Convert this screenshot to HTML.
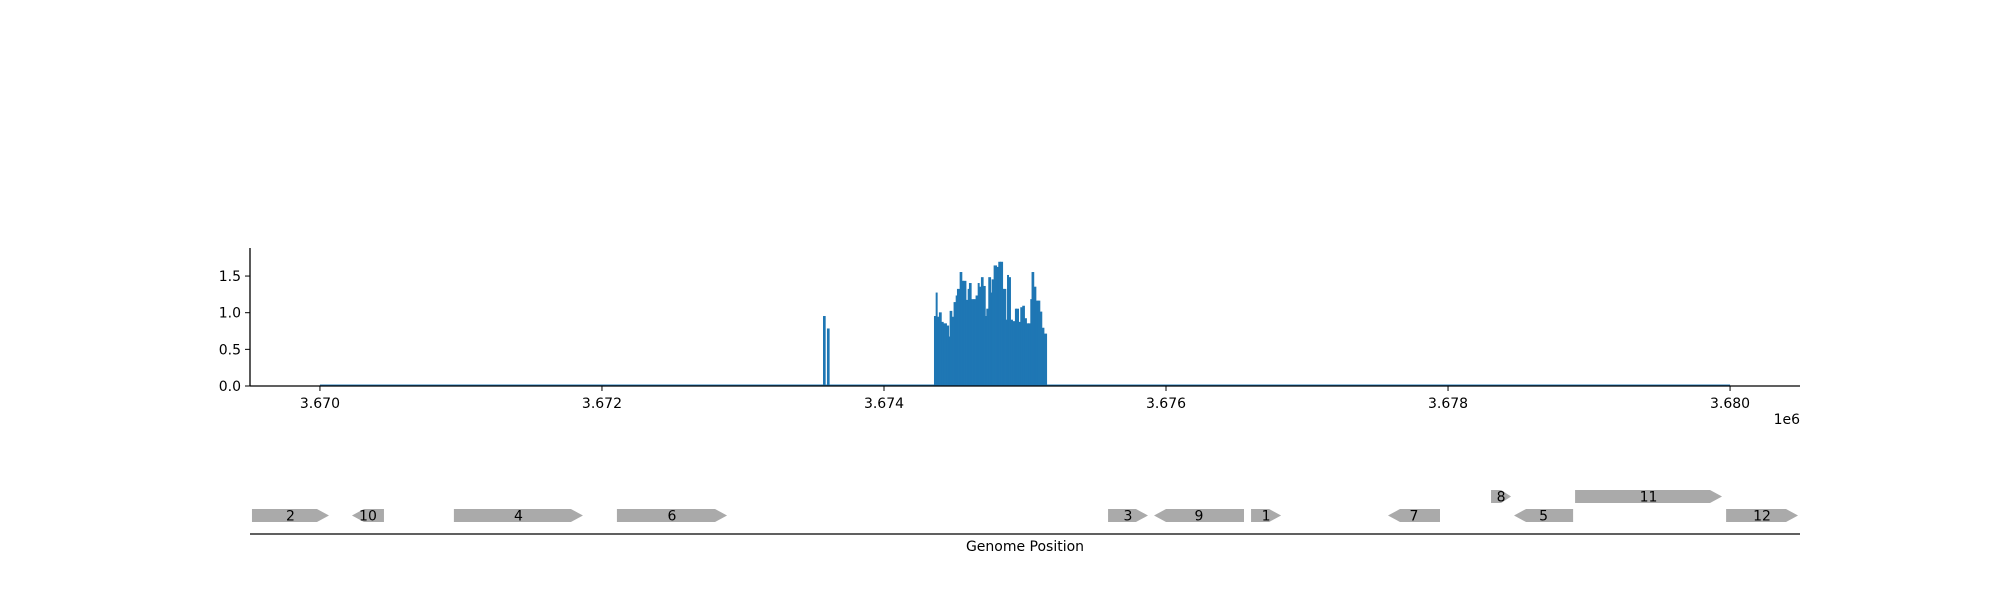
<!DOCTYPE html>
<html><head><meta charset="utf-8"><style>
html,body{margin:0;padding:0;background:#fff;}
svg{display:block;font-family:"DejaVu Sans","Liberation Sans",sans-serif;}
</style></head><body>
<svg id="chart" width="2000" height="600" viewBox="0 0 2000 600" xmlns="http://www.w3.org/2000/svg">
<g id="cov"></g>
<g id="genes"></g>
</svg>
<script>
const covStart=[3673570,3673598,3674357,3674369,3674378,3674392,3674407,3674421,3674444,3674459,3674468,3674482,3674496,3674511,3674520,3674539,3674553,3674563,3674582,3674596,3674605,3674619,3674638,3674652,3674667,3674676,3674690,3674704,3674719,3674728,3674742,3674757,3674766,3674780,3674799,3674813,3674827,3674842,3674851,3674865,3674875,3674884,3674898,3674912,3674931,3674941,3674955,3674969,3674983,3674997,3675011,3675026,3675040,3675049,3675063,3675078,3675092,3675106,3675120,3675135];
const covEnd=[3673584,3673612,3674369,3674378,3674392,3674407,3674421,3674444,3674459,3674468,3674482,3674496,3674511,3674520,3674539,3674553,3674563,3674582,3674596,3674605,3674619,3674638,3674652,3674667,3674676,3674690,3674704,3674719,3674728,3674742,3674757,3674766,3674780,3674799,3674813,3674827,3674842,3674851,3674865,3674875,3674884,3674898,3674912,3674931,3674941,3674955,3674969,3674983,3674997,3675011,3675026,3675040,3675049,3675063,3675078,3675092,3675106,3675120,3675135,3675154];
const covValue=[0.95,0.78,0.95,1.27,0.94,1.0,0.87,0.85,0.82,0.67,1.02,0.94,1.14,1.23,1.32,1.55,1.43,1.43,1.17,1.32,1.4,1.18,1.18,1.23,1.4,1.35,1.48,1.36,0.95,1.05,1.48,1.27,1.45,1.64,1.62,1.69,1.69,1.32,1.32,0.9,1.51,1.48,0.9,0.88,1.05,1.05,0.87,1.07,1.09,0.92,0.85,0.85,1.18,1.55,1.35,1.16,1.16,1.01,0.79,0.71];
const baseStart=3670000, baseEnd=3680000, baseValue=0.02;
const yTicks=[0,0.5,1.0,1.5];
const yTickLabels=["0.0","0.5","1.0","1.5"];
const xTicks=[3670000,3672000,3674000,3676000,3678000,3680000];
const xTickLabels=["3.670","3.672","3.674","3.676","3.678","3.680"];
const geneNames=["2","10","4","6","3","9","1","7","8","5","11","12"];
const geneStart=[3669518,3670227,3670950,3672106,3675589,3675915,3676603,3677574,3678305,3678468,3678901,3679972];
const geneEnd=[3670064,3670454,3671865,3672887,3675872,3676553,3676816,3677943,3678447,3678887,3679943,3680482];
const geneStrand=[1,-1,1,1,1,-1,1,-1,1,-1,1,1];
const geneRow=[0,0,0,0,0,0,0,0,1,0,1,0];

const NS="http://www.w3.org/2000/svg";
const X0=250,X1=1800,XMIN=3669504,XMAX=3680496;
const Y0=386,YSCALE=73.3,YTOP=248;
const xs=v=>X0+(v-XMIN)/(XMAX-XMIN)*(X1-X0);
const ys=v=>Y0-v*YSCALE;
function mk(tag,attrs,parent,text){const e=document.createElementNS(NS,tag);for(const k in attrs)e.setAttribute(k,attrs[k]);if(text!==undefined)e.textContent=text;parent.appendChild(e);return e;}
const cov=document.getElementById('cov'), gt=document.getElementById('genes');

let b=mk('rect',{x:xs(baseStart),y:ys(baseValue),width:xs(baseEnd)-xs(baseStart),height:Y0-ys(baseValue),fill:'#1f77b4'},cov);


covValue.forEach((v,i)=>{
  const r=mk('rect',{x:xs(covStart[i]),y:ys(v),width:Math.max(1,xs(covEnd[i])-xs(covStart[i])),height:Y0-ys(v),fill:'#1f77b4',stroke:'#1f77b4','stroke-width':0.7},cov);
  
  
});
let s=mk('line',{x1:X0,y1:YTOP,x2:X0,y2:Y0,stroke:'#000','stroke-width':1.3},cov);


s=mk('line',{x1:X0,y1:Y0,x2:X1,y2:Y0,stroke:'#000','stroke-width':1.3},cov);


yTicks.forEach((v,i)=>{
  mk('line',{x1:X0-5,y1:ys(v),x2:X0,y2:ys(v),stroke:'#000','stroke-width':1},cov);
  const t=mk('text',{x:X0-9,y:ys(v)+5,'text-anchor':'end','font-size':14},cov,yTickLabels[i]);
  
  
});
xTicks.forEach((v,i)=>{
  mk('line',{x1:xs(v),y1:Y0,x2:xs(v),y2:Y0+5,stroke:'#000','stroke-width':1},cov);
  const t=mk('text',{x:xs(v),y:Y0+22,'text-anchor':'middle','font-size':14},cov,xTickLabels[i]);
  
  
});
let off=mk('text',{x:1800,y:424,'text-anchor':'end','font-size':14},cov,'1e6');



let gl=mk('line',{x1:X0,y1:534,x2:X1,y2:534,stroke:'#000','stroke-width':1.3},gt);


geneNames.forEach((n,i)=>{
  const a=xs(geneStart[i]),c=xs(geneEnd[i]);
  const top=geneRow[i]?490:509, h=13, m=top+h/2, hl=Math.min(12,(c-a)*0.5);
  let pts;
  if(geneStrand[i]>0) pts=`${a},${top} ${c-hl},${top} ${c},${m} ${c-hl},${top+h} ${a},${top+h}`;
  else pts=`${a+hl},${top} ${c},${top} ${c},${top+h} ${a+hl},${top+h} ${a},${m}`;
  const p=mk('polygon',{points:pts,fill:'#aaaaaa'},gt);
  
  
  const t=mk('text',{x:(a+c)/2,y:m+5,'text-anchor':'middle','font-size':14},gt,n);
  
  
});
let xt=mk('text',{x:1025,y:551,'text-anchor':'middle','font-size':14},gt,'Genome Position');


</script>
</body></html>
